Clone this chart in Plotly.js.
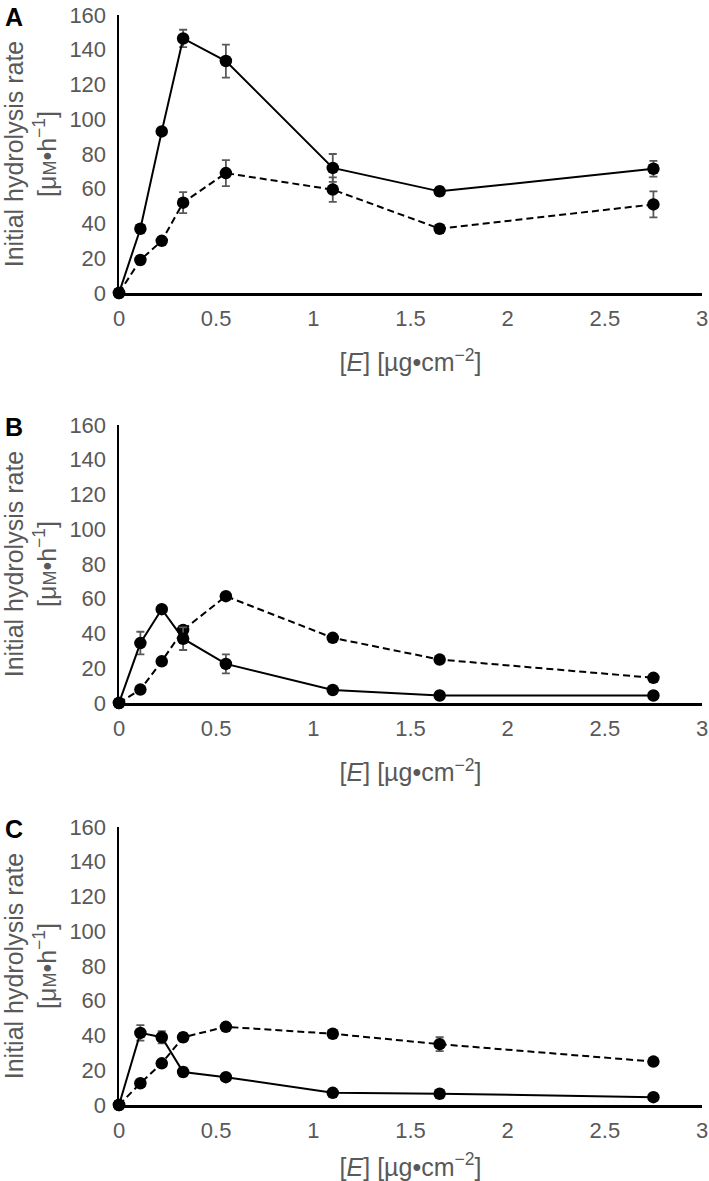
<!DOCTYPE html>
<html>
<head>
<meta charset="utf-8">
<script src="https://cdn.plot.ly/plotly-3.0.1.min.js"></script>
<style>
html,body{margin:0;padding:0;background:#fff;}
#chart{width:709px;height:1181px;}
</style>
</head>
<body>
<div id="chart"></div>
<script>
// Enzyme loading [E] (µg·cm⁻²)
const enzymeConc = [0, 0.11, 0.22, 0.33, 0.55, 1.1, 1.65, 2.75];

// Panel A
const aSolid      = [0, 37, 93, 146.5, 133.5, 72, 58.5, 71.5];
const aSolidErr   = [0, 0, 0, 5, 9.5, 8, 2.5, 4.5];
const aDashed     = [0, 19, 30, 52, 69, 59.5, 37, 51];
const aDashedErr  = [0, 0, 0, 6, 7.5, 7, 2, 7.5];

// Panel B
const bSolid      = [0, 34.5, 54, 37, 22.5, 7.5, 4.3, 4.3];
const bSolidErr   = [0, 6.5, 0, 6.5, 5.5, 0, 0, 0];
const bDashed     = [0, 7.7, 24, 42, 61.5, 37.5, 25, 14.5];
const bDashedErr  = [0, 0, 0, 0, 0, 0, 0, 0];

// Panel C
const cSolid      = [0, 41.5, 39, 19, 16, 7, 6.5, 4.5];
const cSolidErr   = [0, 4.5, 3.5, 2.5, 0, 0, 0, 0];
const cDashed     = [0, 12.5, 24, 39, 45, 41, 35, 25];
const cDashedErr  = [0, 0, 0, 2.5, 0, 0, 4, 0];

const yTicks = [0, 20, 40, 60, 80, 100, 120, 140, 160];
const xTicks = [0, 0.5, 1, 1.5, 2, 2.5, 3];
const panelLabels = ["A", "B", "C"];

const grey = "#595959";
const fontFam = "Liberation Sans, Arial, sans-serif";

function series(x, y, err, dash, xa, ya) {
  return {
    x: x, y: y, type: "scatter", mode: "lines+markers",
    xaxis: xa, yaxis: ya, cliponaxis: false, showlegend: false,
    line: {color: "#000", width: 2, dash: dash},
    marker: {color: "#000", size: 12.5},
    error_y: {type: "data", array: err, visible: true, color: grey, thickness: 1.8, width: 4}
  };
}

const data = [
  series(enzymeConc, aDashed, aDashedErr, "7px,4px", "x", "y"),
  series(enzymeConc, aSolid, aSolidErr, "solid", "x", "y"),
  series(enzymeConc, bDashed, bDashedErr, "7px,4px", "x2", "y2"),
  series(enzymeConc, bSolid, bSolidErr, "solid", "x2", "y2"),
  series(enzymeConc, cDashed, cDashedErr, "7px,4px", "x3", "y3"),
  series(enzymeConc, cSolid, cSolidErr, "solid", "x3", "y3")
];

const H = 1181;
// plot areas: top/bottom pixel of y-axis (160 -> 0)
const panels = [[15, 293], [425, 703], [827, 1105]];

function xAxis(anchor) {
  return {
    anchor: anchor, domain: [0, 1], range: [0, 3],
    tickvals: xTicks, ticktext: xTicks.map(String),
    showgrid: false, zeroline: false, showline: true, linecolor: "#000", linewidth: 2.5,
    ticks: "", ticklabelstandoff: 4,
    tickfont: {family: fontFam, size: 22, color: grey},
    title: {text: "[<i>E</i>] [µg•cm<sup>−2</sup>]", font: {family: fontFam, size: 25, color: grey}, standoff: 24}
  };
}
function yAxis(anchor, p) {
  return {
    anchor: anchor, domain: [1 - p[1] / H, 1 - p[0] / H], range: [0, 160],
    tickvals: yTicks, ticktext: yTicks.map(String),
    showgrid: false, zeroline: false, showline: true, linecolor: "#000", linewidth: 2.5,
    ticks: "", ticklabelstandoff: 6,
    tickfont: {family: fontFam, size: 22, color: grey},
    title: {text: "Initial hydrolysis rate<br>[μ<span style='font-size:18px'>M</span>•h<sup>−1</sup>]",
            font: {family: fontFam, size: 25, color: grey}, standoff: 10}
  };
}

const layout = {
  width: 709, height: H,
  margin: {l: 119, r: 7, t: 0, b: 0},
  paper_bgcolor: "#fff", plot_bgcolor: "#fff",
  font: {family: fontFam, color: grey},
  xaxis: xAxis("y"), yaxis: yAxis("x", panels[0]),
  xaxis2: xAxis("y2"), yaxis2: yAxis("x2", panels[1]),
  xaxis3: xAxis("y3"), yaxis3: yAxis("x3", panels[2]),
  annotations: panelLabels.map((t, i) => ({
    text: "<b>" + t + "</b>", xref: "paper", yref: "paper",
    x: -119 / 583 + 3 / 583, y: 1 - (panels[i][0] + 2) / H,
    xanchor: "left", yanchor: "middle", showarrow: false,
    font: {family: fontFam, size: 25, color: "#000"}
  }))
};

Plotly.newPlot("chart", data, layout, {displayModeBar: false, staticPlot: true});
</script>
</body>
</html>
